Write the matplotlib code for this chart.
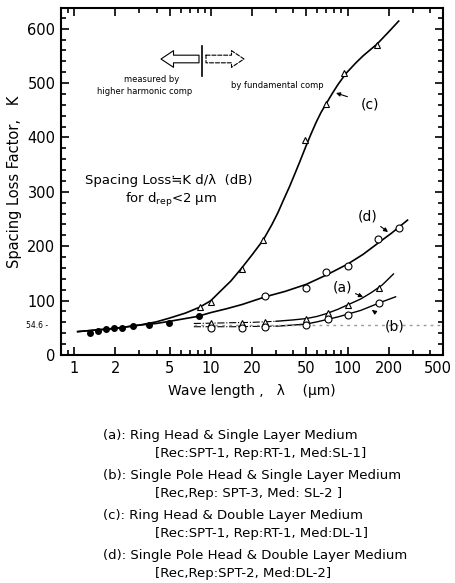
import matplotlib
matplotlib.use('Agg')
import matplotlib.pyplot as plt
import matplotlib.transforms as mtransforms
import numpy as np
from matplotlib.ticker import FixedLocator, LogLocator, NullFormatter

W, H = 455, 583

# measured points
common_x = [1.31, 1.50, 1.71, 1.94, 2.23, 2.71, 3.55, 4.96, 8.2]
common_k = [41, 45, 48, 49, 50, 54, 55, 59, 71]

c_x = [8.3, 10, 17, 24, 49, 70, 94, 165]
c_k = [88, 98, 159, 211, 395, 461, 519, 570]

d_x = [25, 50, 70, 100, 168, 240]
d_k = [108, 124, 153, 164, 213, 233]

a_x = [10, 17, 25, 50, 72, 100, 170]
a_k = [59, 59, 61, 66, 78, 92, 124]

b_x = [10, 17, 25, 50, 72, 100, 170]
b_k = [49, 50, 51, 55, 66, 74, 95]

# traced curves
c_line_x = [1.06, 2, 3, 4, 5, 6.5, 8.3, 10, 11.6, 14, 16.7, 20, 24.1, 28, 31, 34, 37.7, 41, 44.7, 49.3, 54, 59, 64, 69.8, 77, 85, 97.7, 115, 130, 165, 200, 237]
c_line_k = [43, 49, 55, 61, 68, 77, 88, 100, 116, 136, 159, 184, 211, 240, 262, 285, 310, 332, 355, 382, 406, 428, 446, 462, 480, 497, 518, 537, 550, 572, 594, 614]

d_line_x = [1.06, 2, 3, 4, 5, 6.5, 8, 10, 13, 17, 25, 35, 50, 70, 100, 130, 170, 210, 275]
d_line_k = [43, 49, 55, 58, 62, 67, 71, 78, 85, 93, 107, 117, 130, 147, 167, 185, 207, 224, 248]

a_dash_x = [7.5, 10, 15, 20, 30]
a_dash_k = [58, 58.5, 59.5, 60, 62]
a_line_x = [30, 40, 50, 60, 70, 85, 100, 125, 150, 180, 217]
a_line_k = [62, 64.5, 67, 71, 76, 84, 92, 103, 115, 129, 149]

b_dash_x = [7.5, 10, 15, 20, 30]
b_dash_k = [52, 52, 52, 52.5, 53]
b_line_x = [30, 40, 50, 60, 70, 85, 100, 125, 150, 180, 225]
b_line_k = [53, 55, 57, 61, 65, 70, 75, 82, 90, 98, 107]

ref_k = 54.6

x_ticks = [1, 2, 5, 10, 20, 50, 100, 200, 500]
y_ticks = [0, 100, 200, 300, 400, 500, 600]

legend_lines = [
    ("(a): Ring Head & Single Layer Medium", "[Rec:SPT-1, Rep:RT-1, Med:SL-1]"),
    ("(b): Single Pole Head & Single Layer Medium", "[Rec,Rep: SPT-3, Med: SL-2 ]"),
    ("(c): Ring Head & Double Layer Medium", "[Rec:SPT-1, Rep:RT-1, Med:DL-1]"),
    ("(d): Single Pole Head & Double Layer Medium", "[Rec,Rep:SPT-2, Med:DL-2]"),
]

fig = plt.figure(figsize=(W / 100, H / 100), dpi=100)
ax = fig.add_axes([61 / W, 1 - 355 / H, (443 - 61) / W, (355 - 8) / H])

def fx(px):
    return px / W

def fy(py):
    return 1 - py / H

lw = 1.2
ax.plot(c_line_x, c_line_k, color='black', lw=lw)
ax.plot(d_line_x, d_line_k, color='black', lw=lw)
ax.plot(a_dash_x, a_dash_k, color='black', lw=0.8, ls='-.')
ax.plot(a_line_x, a_line_k, color='black', lw=1.0)
ax.plot(b_dash_x, b_dash_k, color='black', lw=0.8, ls='-.')
ax.plot(b_line_x, b_line_k, color='black', lw=1.0)
ax.plot([7.5, 500], [ref_k, ref_k], color='0.6', lw=1.0, ls=(0, (2, 3)))

ax.plot(common_x, common_k, 'o', color='black', ms=4)
ax.plot(c_x, c_k, '^', mfc='white', mec='black', ms=5, mew=0.8)
ax.plot(d_x, d_k, 'o', mfc='white', mec='black', ms=5, mew=0.8)
ax.plot(a_x, a_k, '^', mfc='white', mec='black', ms=5, mew=0.8)
ax.plot(b_x, b_k, 'o', mfc='white', mec='black', ms=5, mew=0.8)

ax.set_xscale('log')
ax.set_xlim(0.8, 500)
ax.set_ylim(0, 638)
ax.xaxis.set_major_locator(FixedLocator(x_ticks))
ax.xaxis.set_minor_locator(LogLocator(base=10, subs=np.arange(1, 10)))
ax.xaxis.set_minor_formatter(NullFormatter())
ax.set_xticklabels([str(t) for t in x_ticks])
ax.set_yticks(y_ticks)
ax.yaxis.set_minor_locator(FixedLocator(np.arange(0, 640, 20)))
ax.tick_params(which='both', direction='in', top=True, right=True, width=1.2)
ax.tick_params(which='major', length=6, labelsize=10.5, pad=4)
ax.tick_params(which='minor', length=3.5)
for s in ax.spines.values():
    s.set_linewidth(1.5)

# last x label sits against the right edge of the figure
last = ax.get_xticklabels()[-1]
last.set_transform(last.get_transform() + mtransforms.ScaledTranslation(-5 / 100, 0, fig.dpi_scale_trans))

ax.text(-0.035, ref_k, '54.6 -', transform=ax.get_yaxis_transform(), ha='right', va='center', fontsize=5.5)

ax.set_xlabel('Wave length ,   λ    (μm)', fontsize=10, labelpad=6)
ax.set_ylabel('Spacing Loss Factor,   K', fontsize=10.5, labelpad=4)

# curve labels with small arrows
arr = dict(arrowstyle='-|>', color='black', lw=0.8, shrinkA=8, shrinkB=0, mutation_scale=6)
ax.annotate('(c)', xy=(fx(336), fy(93)), xycoords='figure fraction', xytext=(fx(370), fy(104)),
            textcoords='figure fraction', fontsize=10, ha='center', va='center', arrowprops=arr)
ax.annotate('(d)', xy=(fx(388), fy(232)), xycoords='figure fraction', xytext=(fx(368), fy(217)),
            textcoords='figure fraction', fontsize=10, ha='center', va='center', arrowprops=arr)
ax.annotate('(a)', xy=(fx(363), fy(297)), xycoords='figure fraction', xytext=(fx(343), fy(288)),
            textcoords='figure fraction', fontsize=10, ha='center', va='center', arrowprops=arr)
ax.annotate('(b)', xy=(fx(372), fy(310)), xycoords='figure fraction', xytext=(fx(395), fy(327)),
            textcoords='figure fraction', fontsize=10, ha='center', va='center', arrowprops=arr)

fig.text(fx(85), fy(180), 'Spacing Loss≒K d/λ  (dB)', fontsize=9.5, va='center')
fig.text(fx(125), fy(200), r'for $\mathrm{d_{rep}}$<2 μm', fontsize=9.5, va='center')

# measurement-method arrows
big = 'simple,head_length=0.9,head_width=1.2,tail_width=0.55'
ax.annotate('', xy=(fx(161), fy(59)), xycoords='figure fraction', xytext=(fx(199), fy(59)),
            textcoords='figure fraction',
            arrowprops=dict(arrowstyle=big, fc='white', ec='black', lw=0.8, shrinkA=0, shrinkB=0))
ax.annotate('', xy=(fx(244), fy(59)), xycoords='figure fraction', xytext=(fx(206), fy(59)),
            textcoords='figure fraction',
            arrowprops=dict(arrowstyle=big, fc='white', ec='black', lw=0.8, ls='--', shrinkA=0, shrinkB=0))
fig.add_artist(plt.Line2D([fx(202), fx(202)], [fy(46), fy(76)], color='black', lw=1.2))
fig.text(fx(152), fy(80), 'measured by', fontsize=6, ha='center', va='center')
fig.text(fx(145), fy(92), 'higher harmonic comp', fontsize=6, ha='center', va='center')
fig.text(fx(277), fy(85), 'by fundamental comp', fontsize=6, ha='center', va='center')

# legend block under the chart
row_y = [435, 475, 515, 555]
for (l1, l2), yy in zip(legend_lines, row_y):
    fig.text(fx(103), fy(yy), l1, fontsize=9.5, va='center')
    fig.text(fx(155), fy(yy + 18), l2, fontsize=9.5, va='center')

fig.savefig('out.png', dpi=100)
